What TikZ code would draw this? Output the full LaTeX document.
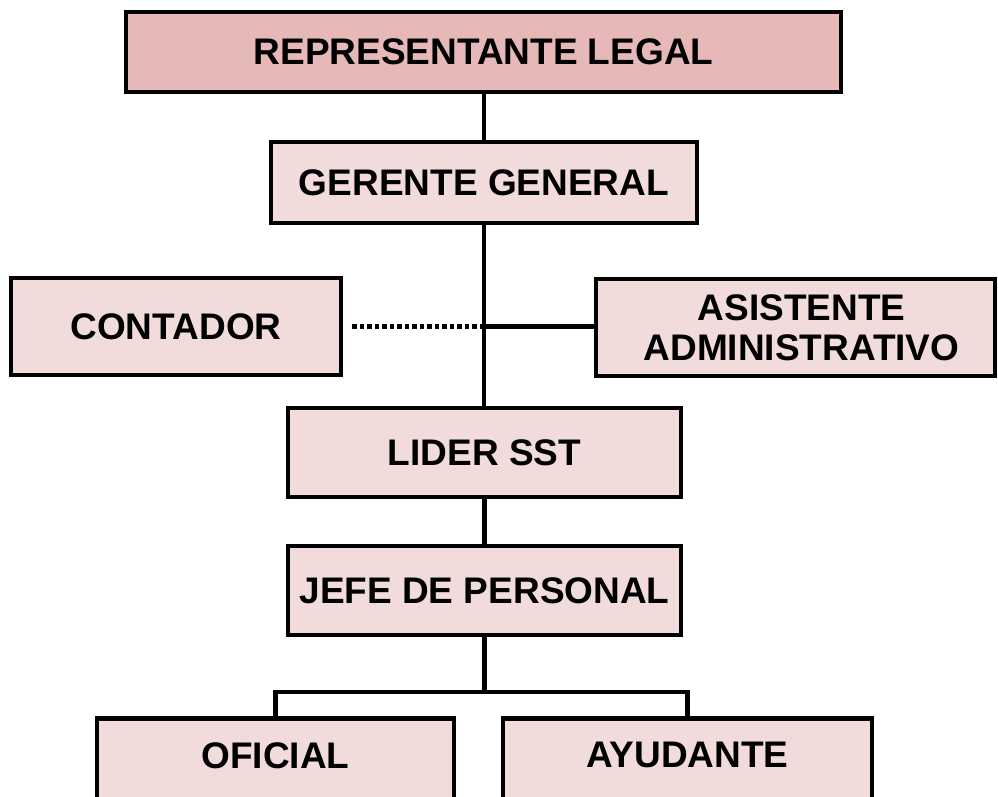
\documentclass[tikz,border=0pt]{standalone}
\usepackage{fontspec}
\setmainfont{Liberation Sans}
\definecolor{repfill}{HTML}{E6B8B7}
\definecolor{boxfill}{HTML}{F2DCDB}
\begin{document}
\begin{tikzpicture}[x=1pt,y=-1pt,
  orgbox/.style={draw=black, line width=4.5pt, fill=boxfill, rectangle, inner sep=0pt,
    font=\fontsize{37}{40}\selectfont\bfseries, align=center},
  link/.style={line width=4.5pt, draw=black},
  dotlink/.style={line width=4.5pt, draw=black, dash pattern=on 4.5pt off 3pt}]
\useasboundingbox (0,0) rectangle (998,796);
\clip (0,0) rectangle (998,796);

\node[orgbox, fill=repfill, minimum width=715pt, minimum height=80pt] (rep) at (483.5,52) {REPRESENTANTE LEGAL};
\node[orgbox, minimum width=426pt, minimum height=81pt] (ger) at (484,182.5) {GERENTE GENERAL};
\node[orgbox, minimum width=330pt, minimum height=97pt] (cont) at (176,326.5) {CONTADOR};
\node[orgbox, minimum width=399pt, minimum height=97pt] (asis) at (795.5,327.5) {\hspace*{12pt}ASISTENTE\\\hspace*{12pt}ADMINISTRATIVO};
\node[orgbox, minimum width=393pt, minimum height=89pt] (lid) at (484.5,452.5) {LIDER SST};
\node[orgbox, minimum width=393pt, minimum height=89pt] (jef) at (484.5,590.5) {JEFE DE PERSONAL};
\node[orgbox, anchor=north, minimum width=357pt, inner ysep=24pt, text depth=60pt] (ofi) at (275.5,716) {OFICIAL};
\node[orgbox, anchor=north, minimum width=369pt, inner ysep=24pt, text depth=60pt] (ayu) at (687.5,716) {AYUDANTE};

\coordinate (jn) at (484,326.5);
\coordinate (bus) at (484.5,692);

\draw[link] (ger.north) -- (ger.north |- rep.south);
\draw[link] (ger.south) -- (ger.south |- lid.north);
\draw[dotlink] ([xshift=9pt]cont.east) -- (jn);
\draw[link] (jn) -- (jn -| asis.west);
\draw[link] (lid.south) -- (jef.north);
\draw[link] (jef.south) -- (bus);
\draw[link] (ofi.north) -- (ofi.north |- bus) -- (ayu.north |- bus) -- (ayu.north);
\end{tikzpicture}
\end{document}
